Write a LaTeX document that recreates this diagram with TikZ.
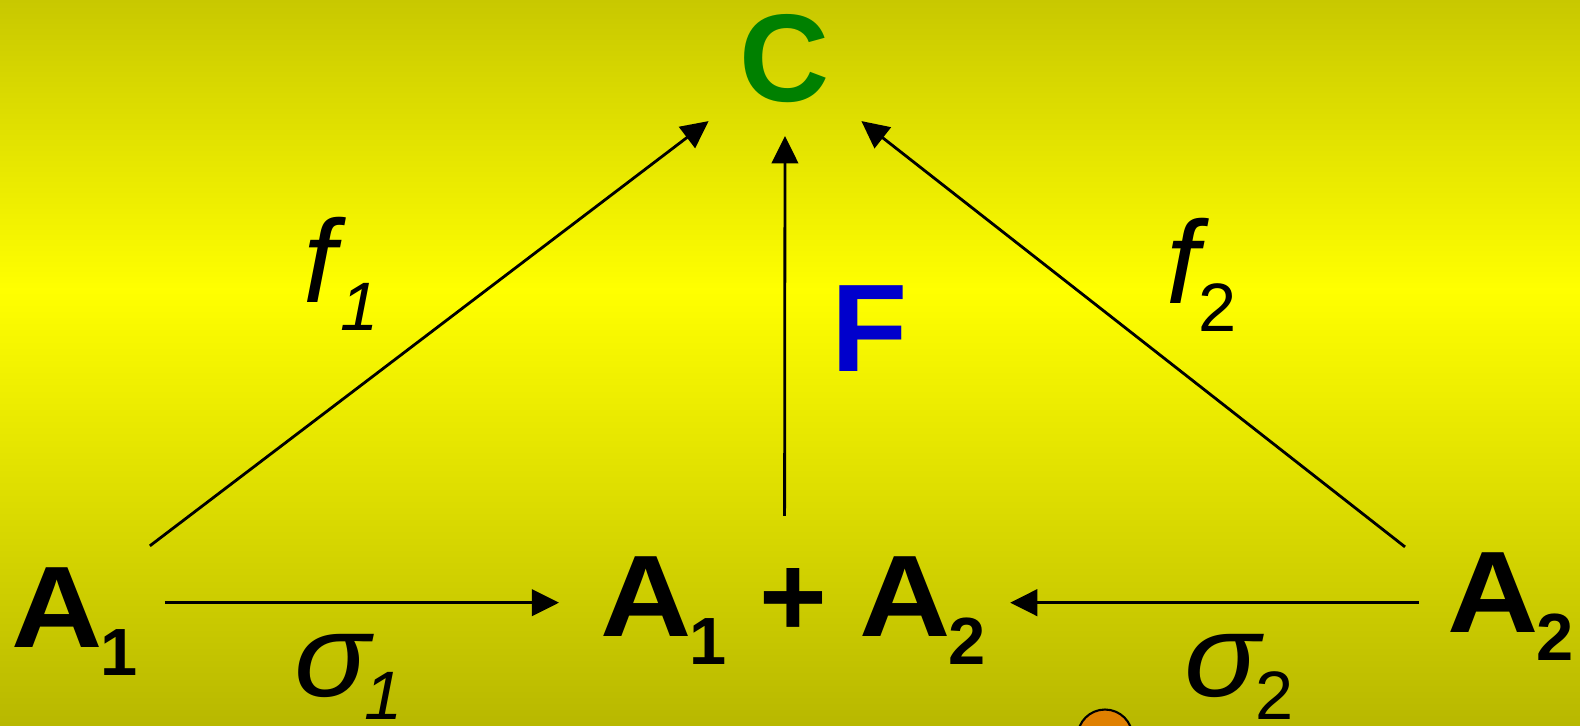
\documentclass[tikz,border=0pt]{standalone}
\usepackage{fontspec}
\setmainfont{Liberation Sans}
\usetikzlibrary{arrows.meta,calc}
\definecolor{bgtop}{HTML}{C8C800}
\definecolor{bgmid}{HTML}{FFFF00}
\definecolor{bgbot}{HTML}{B8B800}
\definecolor{cgreen}{HTML}{008000}
\definecolor{fblue}{HTML}{0000CC}
\definecolor{head}{HTML}{E08000}
\newcommand\wideA{\scalebox{1.09}[1]{A}}
\newcommand\sig{\scalebox{1.07}[1]{\textit{σ}}}
\newcommand\objsub[1]{\wideA\kern-1pt\raisebox{-16pt}{\fontsize{38}{38}\selectfont #1}}
\newcommand\mapsub[4]{#1\kern#3\raisebox{#4}{\fontsize{39}{39}\selectfont #2}}
\tikzset{
  obj/.style={inner sep=0pt, anchor=base west, font=\fontsize{66}{66}\selectfont\bfseries},
  maplbl/.style={inner sep=0pt, anchor=base west, font=\fontsize{67}{67}\selectfont},
  arrow/.style={-{Triangle[length=15.5pt,width=15pt]}, line width=1.6pt},
  inj/.style={arrow, line width=2pt},
}
\begin{document}
\begin{tikzpicture}[x=0.02cm,y=-0.02cm]
  \useasboundingbox (0,0) rectangle (1580,725);
  \clip (0,0) rectangle (1580,725);
  % background
  \shade[top color=bgtop, bottom color=bgmid] (0,0) rectangle (1580,290);
  \shade[top color=bgmid, bottom color=bgbot] (0,290) rectangle (1580,725);

  % objects
  \node[obj] (a1) at (11,647) {\objsub{1}};
  \node[obj] (sum) at (600,636) {\objsub{1} + \objsub{2}};
  \node[obj] (a2) at (1447,632) {\objsub{2}};
  \node[obj, anchor=base, text=cgreen, font=\fontsize{71}{71}\selectfont\bfseries] (c) at (785,101) {C};

  % maps into C
  \draw[arrow] ([shift={(11.5,-21)}]a1.north east) -- ([shift={(-31,18.5)}]c.south west);
  \draw[arrow] ([shift={(-8.5,-40)}]sum.north) -- ([shift={(0,33.5)}]c.south);
  \draw[arrow] ([shift={(-42,-5)}]a2.north west) -- ([shift={(31,18.5)}]c.south east);

  % injections
  \draw[inj] ([shift={(26.5,-18.5)}]a1.east) -- ([shift={(-41,-7.5)}]sum.west);
  \draw[inj] ([shift={(-28,-3.5)}]a2.west) -- ([shift={(24,-7.5)}]sum.east);

  % labels
  \node[maplbl] (f1) at (303,302) {\mapsub{\textit{f}}{\textit{1}}{-3.5pt}{-16.4pt}};
  \node[maplbl] (f2) at (1166,303) {\mapsub{\textit{f}}{2}{-6pt}{-16.4pt}};
  \node[obj, anchor=base, text=fblue, font=\fontsize{71}{71}\selectfont\bfseries] (F) at (870,371) {F};
  \node[maplbl] (s1) at (294,696) {\mapsub{\sig}{\textit{1}}{-5.5pt}{-13.5pt}};
  \node[maplbl] (s2) at (1184,696) {\mapsub{\sig}{2}{-5pt}{-13.5pt}};

  % bit of a head at the bottom edge
  \draw[fill=head, line width=1.2pt] (1105,737) circle[radius=0.55cm];
\end{tikzpicture}
\end{document}
